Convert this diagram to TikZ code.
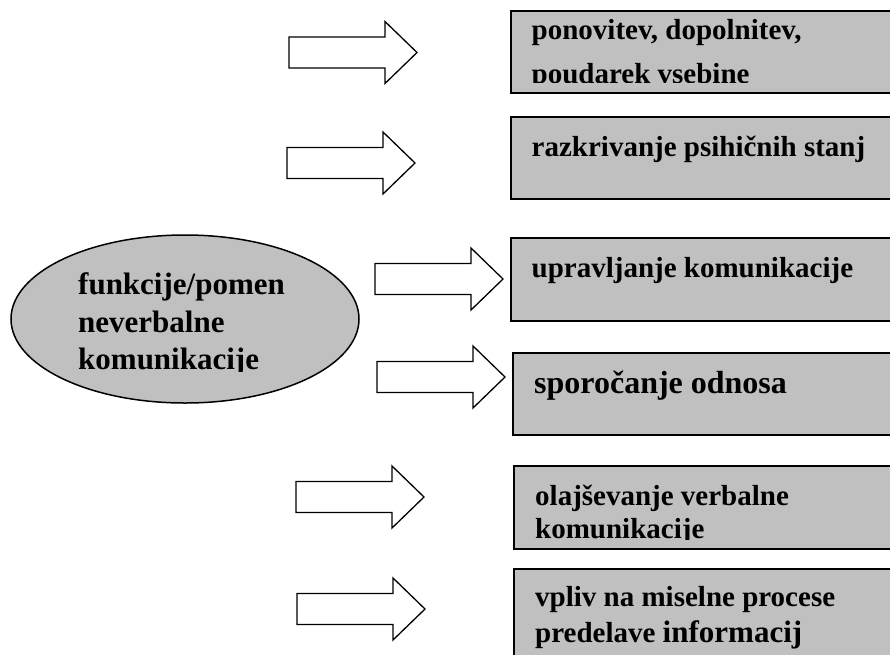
\documentclass[tikz,border=0pt]{standalone}
\usepackage{fontspec}
\setmainfont{Liberation Serif}
\usetikzlibrary{shapes.geometric}
\definecolor{boxgray}{HTML}{C0C0C0}
\tikzset{
  graybox/.style={draw=black, line width=1.6pt, fill=boxgray, rectangle, anchor=north west, inner sep=0pt, minimum width=420pt},
  blockarrow/.style={draw=black, line width=1.3pt, fill=white, line join=miter},
  btext/.style={anchor=base west, inner sep=0pt, font=\bfseries\fontsize{29}{34}\selectfont},
  bigtext/.style={anchor=base west, inner sep=0pt, font=\bfseries\fontsize{32}{36}\selectfont},
  etext/.style={anchor=base west, inner sep=0pt, font=\bfseries\fontsize{31}{36}\selectfont},
  pics/fatarrow/.style={code={
    \draw[blockarrow] (0,-15.5) -- (96,-15.5) -- (96,-31) -- (128,0) -- (96,31) -- (96,15.5) -- (0,15.5) -- cycle;
  }}
}
\begin{document}
\begin{tikzpicture}[x=1pt,y=-1pt]
\useasboundingbox (0,0) rectangle (890,654);
\clip (0,0) rectangle (890,654);

% central ellipse
\node[ellipse, draw=black, line width=1.5pt, fill=boxgray, inner sep=0pt,
      minimum width=348pt, minimum height=168pt] (ell) at (185,319) {};
\node[etext] (e1) at (78,294.5) {funkcije/pomen};
\node[etext] (e2) at (78,332) {neverbalne};
\begin{scope}
  \clip (60,340) rectangle (300,371);
  \node[etext] (e3) at (78,369.5) {komunikacije};
\end{scope}

% boxes
\node[graybox, minimum height=82pt] (b1) at (510,10) {};
\node[graybox, minimum height=82pt] (b2) at (510,116) {};
\node[graybox, minimum height=83pt] (b3) at (510,237) {};
\node[graybox, minimum height=82pt] (b4) at (512,352) {};
\node[graybox, minimum height=83pt] (b5) at (513,465) {};
\node[graybox, minimum height=100pt] (b6) at (513,568) {};

% box texts
\node[btext] (t1a) at (531.5,39) {ponovitev, dopolnitev,};
\begin{scope}
  \clip (520,50) rectangle (890,82);
  \node[btext] (t1b) at (531.5,83) {poudarek vsebine};
\end{scope}
\node[btext] (t2) at (531.5,156.5) {razkrivanje psihičnih stanj};
\node[btext] (t3) at (531.5,277.5) {upravljanje komunikacije};
\node[bigtext] (t4) at (534,393) {sporočanje odnosa};
\node[btext] (t5a) at (535,505) {olajševanje verbalne};
\begin{scope}
  \clip (520,510) rectangle (890,539.5);
  \node[btext] (t5b) at (535,538.5) {komunikacije};
\end{scope}
\node[btext] (t6a) at (535,606.5) {vpliv na miselne procese};
\begin{scope}
  \clip (520,615) rectangle (890,649);
  \node[btext] (t6b) at (535,642.5) {predelave {\fontsize{31}{36}\selectfont informacij}};
\end{scope}

% block arrows
\pic (a1) at (289,52.5) {fatarrow};
\pic (a2) at (287,163) {fatarrow};
\pic (a3) at (375,279) {fatarrow};
\pic (a4) at (377,377) {fatarrow};
\pic (a5) at (296,497) {fatarrow};
\pic (a6) at (297,609) {fatarrow};
\end{tikzpicture}
\end{document}
